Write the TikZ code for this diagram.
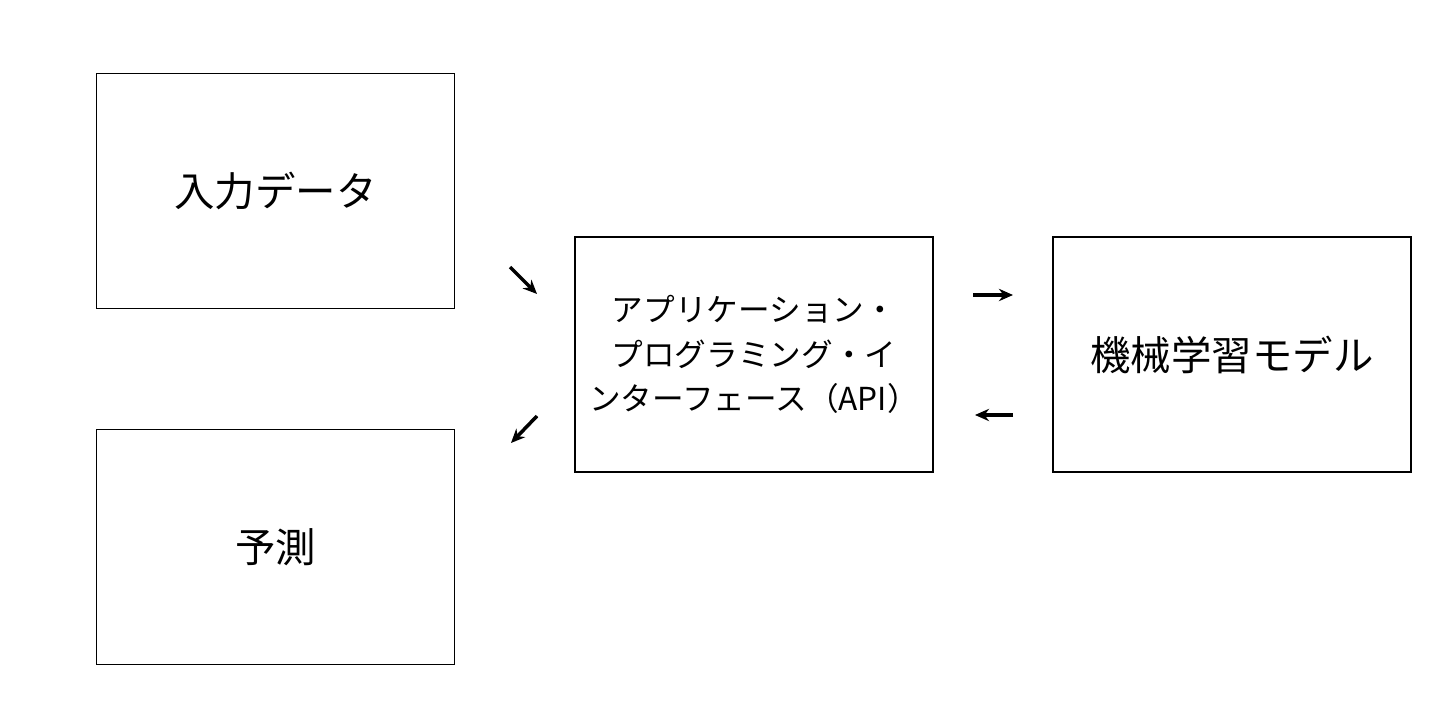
\documentclass[tikz,border=0pt]{standalone}
\usepackage{fontspec}
\setmainfont{Noto Sans CJK JP}
\usetikzlibrary{positioning,arrows.meta}
\tikzset{
    block/.style = {
        draw,
        shape=rectangle,
        minimum height=4.7cm,
        minimum width=7.16cm,
        line width=1pt,
        align=center
    },
    flow/.style = {
        ->,
        line width=2pt
    },
    >={Stealth[length=8pt,width=7pt]},
}
\begin{document}
\begin{tikzpicture}
                \useasboundingbox (0,0) rectangle (29.12,14.4);
                \node[block, font=\fontsize{23}{27}\selectfont] (input) at (5.51,10.58) {入力データ};
                \node[block, font=\fontsize{23}{27}\selectfont] (pred) at (5.51,3.46) {予測};
                \node[block, inner xsep=0pt, font=\fontsize{18}{25.5}\selectfont] (api) at (15.08,7.31) {アプリケーション・\\プログラミング・イ\\ンターフェース（API）};
                \node[block, font=\fontsize{23}{27}\selectfont] (model) at (24.64,7.31) {機械学習モデル};

                \coordinate (a1) at (10.2,9.06);
                \coordinate (a2) at (10.74,8.52);
                \coordinate (b1) at (10.74,6.08);
                \coordinate (b2) at (10.22,5.54);
                \coordinate (c1) at (19.46,8.5);
                \coordinate (c2) at (20.26,8.5);
                \coordinate (d1) at (20.26,6.1);
                \coordinate (d2) at (19.5,6.1);

                \draw[flow] (a1) -- (a2);
                \draw[flow] (b1) -- (b2);
                \draw[flow] (c1) -- (c2);
                \draw[flow] (d1) -- (d2);
\end{tikzpicture}
\end{document}
